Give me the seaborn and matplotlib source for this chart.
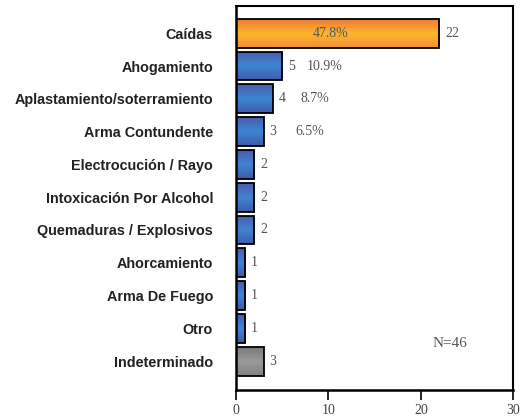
import numpy as np
import pandas as pd
import matplotlib
matplotlib.use("Agg")
import matplotlib.pyplot as plt
import seaborn as sns
from matplotlib.colors import LinearSegmentedColormap

categories = ["Caídas", "Ahogamiento", "Aplastamiento/soterramiento", "Arma Contundente",
              "Electrocución / Rayo", "Intoxicación Por Alcohol", "Quemaduras / Explosivos",
              "Ahorcamiento", "Arma De Fuego", "Otro", "Indeterminado"]
counts = [22, 5, 4, 3, 2, 2, 2, 1, 1, 1, 3]
percents = ["47.8%", "10.9%", "8.7%", "6.5%", "", "", "", "", "", "", ""]
groups = ["top", "blue", "blue", "blue", "blue", "blue", "blue", "blue", "blue", "blue", "gray"]
x_ticks = [0, 10, 20, 30]
total_label = "N=46"

df = pd.DataFrame({"cat": categories, "n": counts, "grp": groups})

gradients = {
    "top": ["#ef7a3a", "#fbb62c", "#f3903a"],
    "blue": ["#4a5cae", "#3d86d2", "#3f5aa9"],
    "gray": ["#7a7a7a", "#9a9a9a", "#808080"],
}
flat = {"top": "#f8a030", "blue": "#3f74c4", "gray": "#929292"}

sns.set_style("white")
fig = plt.figure(figsize=(5.24, 4.19), dpi=100)
ax = fig.add_axes([236 / 524, 1 - 390 / 419, (513.4 - 236) / 524, 384 / 419])

sns.barplot(data=df, x="n", y="cat", hue="grp", palette=flat, dodge=False,
            width=0.88, orient="h", ax=ax, legend=False, edgecolor="black",
            linewidth=1.3, saturation=1)

# gradient fill inside each bar
for patch, g in zip(sorted([p for p in ax.patches if p.get_width() > 0],
                           key=lambda p: p.get_y()), groups):
    x0, y0 = patch.get_x(), patch.get_y()
    w, h = patch.get_width(), patch.get_height()
    cmap = LinearSegmentedColormap.from_list("g", gradients[g])
    grad = np.linspace(0, 1, 64).reshape(-1, 1)
    im = ax.imshow(grad, cmap=cmap, aspect="auto", extent=(x0, x0 + w, y0 + h, y0),
                   origin="upper", zorder=1, interpolation="bilinear")
    im.set_clip_path(patch)
    patch.set_facecolor("none")
    patch.set_zorder(2)

ax.set_xlim(0, 30)
ax.set_ylim(10.88, -0.83)

serif = "Liberation Serif"
for i, (n, pct) in enumerate(zip(counts, percents)):
    ax.annotate(str(n), (n, i), xytext=(4, 0), textcoords="offset points",
                va="center", ha="left", fontsize=10, family=serif, color="#555555")
    if pct:
        if i == 0:
            ax.text(n / 2 - 0.8, i, pct, va="center", ha="center", fontsize=10,
                    family=serif, color="#555555")
        else:
            ax.annotate(pct, (n, i), xytext=(15 + 2.5 * i, 0), textcoords="offset points",
                        va="center", ha="left", fontsize=10, family=serif, color="#555555")

ax.text(21.3, 9.45, total_label, fontsize=11, family=serif, color="#555555",
        va="center", ha="left")

ax.set_xlabel("")
ax.set_ylabel("")
ax.set_xticks(x_ticks)
ax.set_xticklabels([str(t) for t in x_ticks], family=serif, fontsize=10, color="#444444")
ax.set_yticks(range(len(categories)))
ax.set_yticklabels(categories, fontsize=10.4, fontweight="bold", family="Liberation Sans",
                   color="#222222")
ax.set_yticks(np.arange(0.5, len(categories) - 1, 1), minor=True)
ax.tick_params(axis="y", which="major", length=0, pad=16.5)
ax.tick_params(axis="y", which="minor", length=8, width=1.2, direction="out", color="black")
ax.tick_params(axis="x", which="major", length=7, width=1.2, direction="out", pad=3,
               color="black", bottom=True)

for side in ["left", "bottom", "top", "right"]:
    ax.spines[side].set_visible(True)
    ax.spines[side].set_color("black")
    ax.spines[side].set_zorder(7)
ax.spines["left"].set_linewidth(1.8)
ax.spines["bottom"].set_linewidth(1.8)
ax.spines["top"].set_linewidth(1.5)
ax.spines["right"].set_linewidth(1.5)

fig.savefig("out.png", dpi=100)
